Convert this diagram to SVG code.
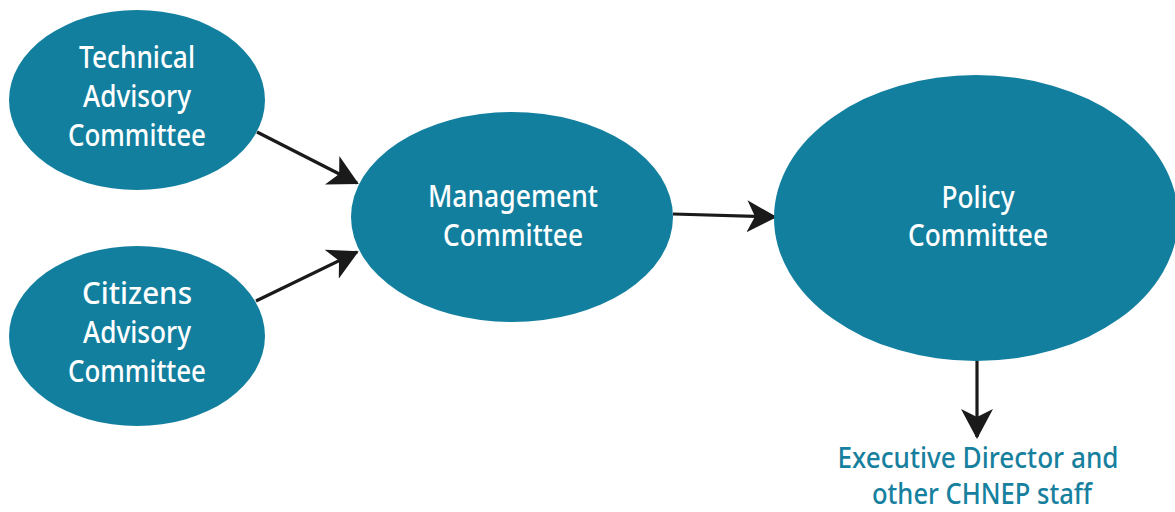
<svg xmlns="http://www.w3.org/2000/svg" width="1175" height="512" viewBox="0 0 1175 512">
<defs>
<style>
.node{fill:#137f9f}
.lbl{font-family:"Noto Sans","Open Sans",sans-serif;font-size:30px;font-weight:500;fill:#ffffff;text-anchor:middle}
.out{font-family:"Noto Sans","Open Sans",sans-serif;font-size:28px;font-weight:500;fill:#16809e;text-anchor:middle}
.edge{stroke:#1a1a1a;stroke-width:3.2;fill:none}
</style>
<marker id="ah" viewBox="0 0 30 32" refX="28" refY="16" markerWidth="30" markerHeight="32" markerUnits="userSpaceOnUse" orient="auto">
<path d="M0,0 L30,16 L0,32 L8,16 Z" fill="#1a1a1a"/>
</marker>
</defs>
<rect width="1175" height="512" fill="#ffffff"/>
<g id="connectors">
<line class="edge" x1="257" y1="132" x2="357" y2="183" marker-end="url(#ah)"/>
<line class="edge" x1="256" y1="301" x2="357" y2="252" marker-end="url(#ah)"/>
<line class="edge" x1="673" y1="214" x2="775" y2="217" marker-end="url(#ah)"/>
<line class="edge" x1="977" y1="360" x2="977" y2="437" marker-end="url(#ah)"/>
</g>
<g id="technical">
<ellipse class="node" cx="137" cy="100" rx="128" ry="90"/>
<text class="lbl" x="137" y="68" textLength="116" lengthAdjust="spacingAndGlyphs">Technical</text>
<text class="lbl" x="137" y="107" textLength="108" lengthAdjust="spacingAndGlyphs">Advisory</text>
<text class="lbl" x="137" y="146" textLength="138" lengthAdjust="spacingAndGlyphs">Committee</text>
</g>
<g id="citizens">
<ellipse class="node" cx="137" cy="336" rx="128" ry="90"/>
<text class="lbl" x="137" y="304" textLength="110" lengthAdjust="spacingAndGlyphs">Citizens</text>
<text class="lbl" x="137" y="343" textLength="108" lengthAdjust="spacingAndGlyphs">Advisory</text>
<text class="lbl" x="137" y="382" textLength="138" lengthAdjust="spacingAndGlyphs">Committee</text>
</g>
<g id="management">
<ellipse class="node" cx="512" cy="217" rx="161" ry="105"/>
<text class="lbl" x="513" y="207" textLength="170" lengthAdjust="spacingAndGlyphs">Management</text>
<text class="lbl" x="513" y="246" textLength="140" lengthAdjust="spacingAndGlyphs">Committee</text>
</g>
<g id="policy">
<ellipse class="node" cx="976" cy="218" rx="202" ry="143"/>
<text class="lbl" x="978" y="208" textLength="73" lengthAdjust="spacingAndGlyphs">Policy</text>
<text class="lbl" x="978" y="246" textLength="140" lengthAdjust="spacingAndGlyphs">Committee</text>
</g>
<g id="staff">
<text class="out" x="978" y="468" textLength="281" lengthAdjust="spacingAndGlyphs">Executive Director and</text>
<text class="out" x="982" y="504" textLength="220" lengthAdjust="spacingAndGlyphs">other CHNEP staff</text>
</g>
</svg>
